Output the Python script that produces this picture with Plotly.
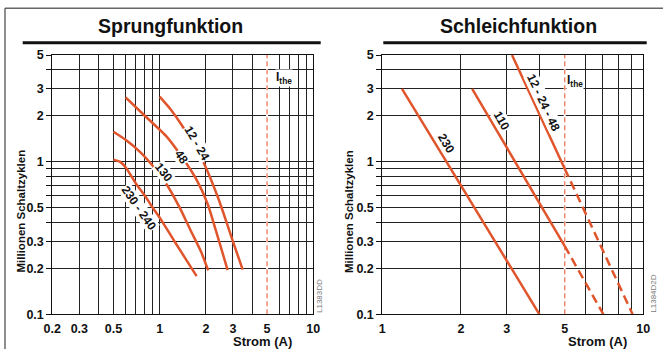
"""
Schaltzyklen in Abhängigkeit vom Strom: Sprung- und Schleichfunktion
"""
import math
import plotly.graph_objects as go

# --- data -----------------------------------------------------------------
# Sprungfunktion (left), curves per coil voltage
SPRUNG_12_24_X = [1.0, 1.18, 1.37, 1.62, 1.92, 2.4, 3.0, 3.47]
SPRUNG_12_24_Y = [2.67, 2.2, 1.78, 1.35, 1.0, 0.58, 0.3, 0.196]
SPRUNG_48_X = [0.6, 0.8, 1.11, 1.39, 1.74, 2.05, 2.35, 2.77]
SPRUNG_48_Y = [2.64, 2.0, 1.46, 1.08, 0.76, 0.53, 0.34, 0.195]
SPRUNG_130_X = [0.5, 0.6, 0.75, 0.9, 1.1, 1.35, 1.6, 1.85, 2.07]
SPRUNG_130_Y = [1.57, 1.39, 1.15, 0.94, 0.72, 0.5, 0.35, 0.26, 0.194]
SPRUNG_230_X = [0.5, 0.55, 0.6, 0.7, 0.8, 0.9, 1.0, 1.25, 1.5, 1.74]
SPRUNG_230_Y = [1.03, 1.0, 0.92, 0.72, 0.6, 0.5, 0.43, 0.3, 0.225, 0.178]

# Schleichfunktion (right): straight lines, solid part then dashed part
SCHLEICH_230_X = [1.19, 4.0]
SCHLEICH_230_Y = [3.0, 0.1]
SCHLEICH_110_X = [2.21, 5.0, 7.03]
SCHLEICH_110_Y = [3.0, 0.28, 0.1]
SCHLEICH_12_48_X = [3.14, 5.0, 9.1]
SCHLEICH_12_48_Y = [5.0, 0.9, 0.1]

I_THE = 5.0

LEFT_X_TICKS = [0.2, 0.3, 0.5, 1, 2, 3, 5, 10]
LEFT_X_MINOR = [0.4, 0.6, 0.7, 0.8, 0.9, 4, 6, 7, 8, 9]
RIGHT_X_TICKS = [1, 2, 3, 5, 10]
RIGHT_X_MINOR = [4, 6, 7, 8, 9]
Y_TICKS = [0.1, 0.2, 0.3, 0.5, 1, 2, 3, 5]
Y_MINOR = [0.4, 0.6, 0.7, 0.8, 0.9, 4]

# --- style ----------------------------------------------------------------
W, H = 663, 349
FONT = "Liberation Sans, Arial, sans-serif"
RED = "#E0552B"
RED_LIGHT = "#EC7A5C"
GRID = "#222222"


def fmt(v):
    return ("%g" % v)


def px(x):
    return x / W


def py(y):
    return 1 - y / H


fig = go.Figure()


def curve(x, y, xa, ya, dash="solid"):
    fig.add_trace(go.Scatter(
        x=x, y=y, xaxis=xa, yaxis=ya, mode="lines",
        line=dict(color=RED, width=2.5, dash=dash, shape="spline", smoothing=0.6),
        hoverinfo="skip", showlegend=False,
    ))


def ithe_line(xa, ya):
    # white cover for the grid line, then the dashed red I_the line
    fig.add_trace(go.Scatter(
        x=[I_THE, I_THE], y=[0.1, 5], xaxis=xa, yaxis=ya, mode="lines",
        line=dict(color="white", width=2), hoverinfo="skip", showlegend=False,
    ))
    fig.add_trace(go.Scatter(
        x=[I_THE, I_THE], y=[0.1, 5], xaxis=xa, yaxis=ya, mode="lines",
        line=dict(color=RED_LIGHT, width=1.3, dash="5px,3px"),
        hoverinfo="skip", showlegend=False,
    ))


# left chart
ithe_line("x", "y")
curve(SPRUNG_12_24_X, SPRUNG_12_24_Y, "x", "y")
curve(SPRUNG_48_X, SPRUNG_48_Y, "x", "y")
curve(SPRUNG_130_X, SPRUNG_130_Y, "x", "y")
curve(SPRUNG_230_X, SPRUNG_230_Y, "x", "y")

# right chart
ithe_line("x2", "y2")
curve(SCHLEICH_230_X, SCHLEICH_230_Y, "x2", "y2")
curve(SCHLEICH_110_X[:2], SCHLEICH_110_Y[:2], "x2", "y2")
curve(SCHLEICH_110_X[1:], SCHLEICH_110_Y[1:], "x2", "y2", dash="9px,5px")
curve(SCHLEICH_12_48_X[:2], SCHLEICH_12_48_Y[:2], "x2", "y2")
curve(SCHLEICH_12_48_X[1:], SCHLEICH_12_48_Y[1:], "x2", "y2", dash="9px,5px")

tickfont = dict(family=FONT, size=12.5, color="#111", weight="bold")


def x_axis(domain, rng, ticks, minor, anchor):
    return dict(
        type="log", range=rng, domain=domain, anchor=anchor, automargin=False,
        tickmode="array", tickvals=ticks, ticktext=[fmt(t) for t in ticks],
        showgrid=True, gridcolor=GRID, gridwidth=1,
        minor=dict(tickmode="array", tickvals=minor, showgrid=True,
                   gridcolor=GRID, gridwidth=1),
        showline=True, mirror=True, linecolor="#111", linewidth=1,
        ticks="", ticklabelstandoff=3, tickfont=tickfont,
        zeroline=False, fixedrange=True,
    )


def y_axis(anchor):
    return dict(
        type="log", range=[-1, math.log10(5)], domain=[py(314.3), py(55)],
        anchor=anchor, automargin=False,
        tickmode="array", tickvals=Y_TICKS, ticktext=[fmt(t) for t in Y_TICKS],
        showgrid=True, gridcolor=GRID, gridwidth=1,
        minor=dict(tickmode="array", tickvals=Y_MINOR, showgrid=True,
                   gridcolor=GRID, gridwidth=1, ticks="outside", ticklen=5,
                   tickcolor="#111"),
        ticks="outside", ticklen=5, tickcolor="#111",
        showline=True, mirror=True, linecolor="#111", linewidth=1,
        tickfont=tickfont, zeroline=False, fixedrange=True,
    )


fig.update_layout(
    width=W, height=H,
    margin=dict(l=0, r=0, t=0, b=0, autoexpand=False),
    paper_bgcolor="white", plot_bgcolor="white",
    xaxis=x_axis([px(52.3), px(313.3)], [math.log10(0.2), 1], LEFT_X_TICKS, LEFT_X_MINOR, "y"),
    yaxis=y_axis("x"),
    xaxis2=x_axis([px(382.3), px(643.3)], [0, 1], RIGHT_X_TICKS, RIGHT_X_MINOR, "y2"),
    yaxis2=y_axis("x2"),
)

annotations = []


def label(text, x, y, xref, yref, angle, size=12):
    annotations.append(dict(
        text="<b>%s</b>" % text, x=math.log10(x), y=math.log10(y),
        xref=xref, yref=yref, showarrow=False, textangle=angle,
        xanchor="center", yanchor="middle",
        bgcolor="white", borderpad=0,
        font=dict(family=FONT, size=size, color="#111"),
    ))


def paper_text(text, cx, cy, size, angle=0, color="#111"):
    annotations.append(dict(
        text=text, x=px(cx), y=py(cy), xref="paper", yref="paper",
        xanchor="center", yanchor="middle", showarrow=False, textangle=angle,
        font=dict(family=FONT, size=size, color=color),
    ))


# curve labels
label("12 - 24", 1.74, 1.32, "x", "y", 60)
label("48", 1.39, 1.08, "x", "y", 55)
label("130", 1.06, 0.86, "x", "y", 52)
label("230 - 240", 0.73, 0.495, "x", "y", 55)
label("230", 1.75, 1.32, "x2", "y2", 59)
label("110", 2.87, 1.855, "x2", "y2", 60)
label("12 - 24 - 48", 4.14, 2.41, "x2", "y2", 65)

# I_the markers
for xr, yr, yv, shift in [("x", "y", 3.52, 8), ("x2", "y2", 3.4, 1)]:
    annotations.append(dict(
        text="<b>I<sub>the</sub></b>", x=math.log10(I_THE), y=math.log10(yv),
        xref=xr, yref=yr, xanchor="left", yanchor="middle", xshift=shift,
        showarrow=False, bgcolor="white", borderpad=0,
        font=dict(family=FONT, size=12, color="#111"),
    ))

# titles, axis titles, figure codes
paper_text("<b>Sprungfunktion</b>", 170.8, 26.5, 19.5)
paper_text("<b>Schleichfunktion</b>", 518.3, 26.5, 19.5)
for cx in [20, 348.5]:
    paper_text("<b>Millionen Schaltzyklen</b>", cx, 211.5, 11.5, angle=-90)
for cx in [262.5, 597.5]:
    paper_text("<b>Strom (A)</b>", cx, 341.8, 13)
paper_text("L1383DD", 319.5, 296.5, 8, angle=-90, color="#777")
paper_text("L1384D2D", 652.7, 294, 8, angle=-90, color="#777")
fig.update_layout(annotations=annotations)

# title rules and outer frame
shapes = [
    dict(type="line", xref="paper", yref="paper", x0=px(22.7), x1=px(320.7),
         y0=py(42.7), y1=py(42.7), line=dict(color="#111", width=3)),
    dict(type="line", xref="paper", yref="paper", x0=px(383.3), x1=px(646.7),
         y0=py(42.7), y1=py(42.7), line=dict(color="#111", width=3)),
    dict(type="line", xref="paper", yref="paper", x0=px(5), x1=1,
         y0=py(8.3), y1=py(8.3), line=dict(color="#666", width=1.5)),
    dict(type="line", xref="paper", yref="paper", x0=px(5), x1=px(5),
         y0=py(8.3), y1=0, line=dict(color="#444", width=1.2)),
]
fig.update_layout(shapes=shapes)

# the page's default body margin would shift the fixed-size figure
fig.write_html("out.html", config={"displayModeBar": False},
               post_script="document.body.style.margin='0';")
